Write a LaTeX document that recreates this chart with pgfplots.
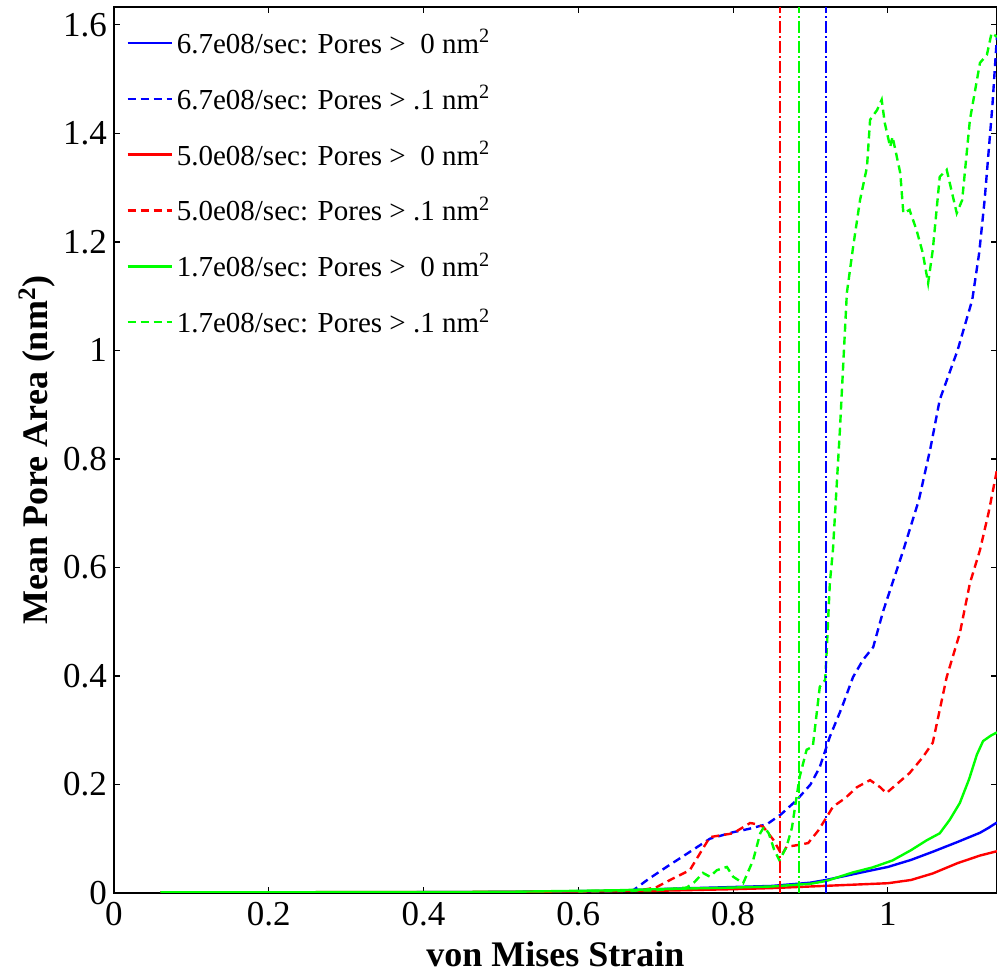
\documentclass[border=0pt]{standalone}
\usepackage{fontspec}
\setmainfont{Liberation Serif}
\usepackage{pgfplots}
\pgfplotsset{compat=1.18}
\usetikzlibrary{calc}

\definecolor{mblue}{rgb}{0,0,1}
\definecolor{mred}{rgb}{1,0,0}
\definecolor{mgreen}{rgb}{0,1,0}

\begin{document}
\begin{tikzpicture}
\begin{axis}[
    scale only axis,
    width=441.5pt, height=443pt,
    xmin=0, xmax=1.141, ymin=0, ymax=1.633,
    xtick={0,0.2,0.4,0.6,0.8,1},
    ytick={0,0.2,0.4,0.6,0.8,1,1.2,1.4,1.6},
    tick align=inside,
    major tick length=3pt,
    axis line style={line width=0.6pt},
    tick style={black, line width=0.6pt},
    /pgf/number format/assume math mode=true,
    ticklabel style={font=\fontsize{17.5}{19}\selectfont},
    xticklabel style={yshift=-1pt},
    xlabel={von Mises Strain},
    ylabel={Mean Pore Area (nm\textsuperscript{2})},
    label style={font=\fontsize{18}{20}\selectfont\bfseries},
    xlabel style={yshift=-1pt},
    ylabel style={yshift=-3pt},
    legend cell align=left,
    legend style={draw=none, fill=none, at={(axis description cs:0,1)}, anchor=north west,
        xshift=4pt, yshift=-7pt, row sep=10.5pt, inner sep=2pt,
        font=\fontsize{14.5}{17}\selectfont},
    legend image code/.code={\draw[#1] (0pt,0pt) -- (22pt,0pt);},
    every axis plot/.append style={line width=1.2pt},
]
% 6.7e08/sec, pores > 0
\addplot[mblue] coordinates {(0.06,0.001) (0.3,0.001) (0.5,0.002) (0.65,0.004) (0.7,0.007) (0.75,0.009) (0.8,0.011) (0.85,0.013) (0.9,0.019) (0.92,0.024) (0.95,0.033) (0.973,0.04) (1.0,0.048) (1.03,0.061) (1.058,0.076) (1.09,0.094) (1.119,0.111) (1.13,0.12) (1.141,0.13)};
\addlegendentry{6.7e08/sec: Pores > \hphantom{.}0 nm\textsuperscript{2}}
% 6.7e08/sec, pores > .1
\addplot[mblue, dash pattern=on 4pt off 2.5pt] coordinates {(0.6,0.003) (0.67,0.004) (0.69,0.025) (0.714,0.048) (0.74,0.072) (0.77,0.10) (0.80,0.112) (0.82,0.118) (0.844,0.127) (0.862,0.145) (0.882,0.171) (0.9,0.2) (0.912,0.232) (0.925,0.288) (0.94,0.34) (0.955,0.398) (0.968,0.43) (0.981,0.453) (0.994,0.52) (1.02,0.632) (1.04,0.724) (1.055,0.82) (1.067,0.909) (1.09,1.0) (1.109,1.093) (1.118,1.18) (1.125,1.277) (1.135,1.45) (1.141,1.58)};
\addlegendentry{6.7e08/sec: Pores > .1 nm\textsuperscript{2}}
% 5.0e08/sec, pores > 0
\addplot[mred] coordinates {(0.06,0.001) (0.5,0.002) (0.7,0.004) (0.8,0.007) (0.85,0.009) (0.9,0.012) (0.95,0.015) (1.0,0.018) (1.03,0.024) (1.058,0.036) (1.09,0.055) (1.119,0.069) (1.141,0.077)};
\addlegendentry{5.0e08/sec: Pores > \hphantom{.}0 nm\textsuperscript{2}}
% 5.0e08/sec, pores > .1
\addplot[mred, dash pattern=on 4pt off 2.5pt] coordinates {(0.6,0.003) (0.68,0.005) (0.70,0.01) (0.72,0.025) (0.744,0.042) (0.77,0.103) (0.787,0.107) (0.80,0.11) (0.822,0.129) (0.83,0.127) (0.839,0.122) (0.852,0.098) (0.863,0.07) (0.869,0.085) (0.882,0.088) (0.897,0.092) (0.91,0.115) (0.921,0.14) (0.929,0.159) (0.945,0.175) (0.96,0.195) (0.977,0.208) (0.99,0.195) (0.998,0.184) (1.028,0.221) (1.045,0.25) (1.058,0.277) (1.076,0.398) (1.093,0.479) (1.106,0.571) (1.119,0.632) (1.13,0.7) (1.141,0.78)};
\addlegendentry{5.0e08/sec: Pores > .1 nm\textsuperscript{2}}
% 1.7e08/sec, pores > 0
\addplot[mgreen] coordinates {(0.06,0.001) (0.5,0.002) (0.65,0.005) (0.7,0.007) (0.8,0.01) (0.85,0.012) (0.9,0.017) (0.92,0.022) (0.955,0.038) (0.98,0.047) (1.006,0.06) (1.03,0.079) (1.05,0.097) (1.067,0.11) (1.08,0.135) (1.093,0.166) (1.105,0.21) (1.115,0.255) (1.123,0.28) (1.133,0.29) (1.141,0.296)};
\addlegendentry{1.7e08/sec: Pores > \hphantom{.}0 nm\textsuperscript{2}}
% 1.7e08/sec, pores > .1
\addplot[mgreen, dash pattern=on 4pt off 2.5pt] coordinates {(0.6,0.003) (0.7,0.005) (0.74,0.01) (0.75,0.02) (0.761,0.037) (0.77,0.03) (0.779,0.042) (0.792,0.048) (0.80,0.03) (0.813,0.018) (0.826,0.061) (0.835,0.11) (0.84,0.122) (0.846,0.11) (0.853,0.08) (0.86,0.06) (0.869,0.085) (0.876,0.12) (0.882,0.177) (0.886,0.214) (0.895,0.264) (0.903,0.27) (0.912,0.38) (0.919,0.393) (0.921,0.448) (0.925,0.571) (0.929,0.632) (0.938,0.853) (0.947,1.106) (0.955,1.19) (0.964,1.277) (0.973,1.338) (0.977,1.425) (0.986,1.443) (0.992,1.462) (0.996,1.419) (1.003,1.375) (1.006,1.394) (1.016,1.327) (1.02,1.253) (1.028,1.259) (1.037,1.222) (1.045,1.18) (1.052,1.124) (1.058,1.185) (1.067,1.32) (1.076,1.333) (1.082,1.296) (1.089,1.253) (1.096,1.277) (1.106,1.425) (1.119,1.53) (1.128,1.545) (1.134,1.585) (1.141,1.578)};
\addlegendentry{1.7e08/sec: Pores > .1 nm\textsuperscript{2}}
% failure strains
\addplot[draw=red, line width=1pt, dash pattern=on 6pt off 1.5pt on 1pt off 1.5pt, forget plot] coordinates {(0.8605,0) (0.8605,1.633)};
\addplot[draw=green, line width=1pt, dash pattern=on 6pt off 1.5pt on 1pt off 1.5pt, forget plot] coordinates {(0.8845,0) (0.8845,1.633)};
\addplot[draw=blue, line width=1pt, dash pattern=on 6pt off 1.5pt on 1pt off 1.5pt, forget plot] coordinates {(0.9205,0) (0.9205,1.633)};
\end{axis}
\pgfresetboundingbox
\path[use as bounding box] ($(current axis.south west)+(-57pt,-39.5pt)$) rectangle ($(current axis.north east)+(0pt,3.5pt)$);
\end{tikzpicture}
\end{document}
